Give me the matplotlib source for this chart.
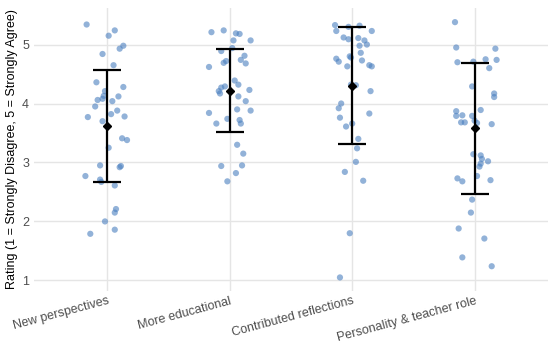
import numpy as np
import matplotlib
matplotlib.use("Agg")
import matplotlib.pyplot as plt

plt.rcParams['font.family'] = ['Liberation Sans', 'DejaVu Sans']

# categories
categories = ["New perspectives", "More educational", "Contributed reflections",
              "Personality & teacher role"]

# individual ratings
new_persp = [5.34, 5.15, 5.24, 4.98, 4.93, 4.84, 4.65, 4.36, 4.28, 4.21, 4.13, 4.06,
             4.08, 4.04, 4.12, 3.95, 3.88, 3.82, 3.77, 3.78, 3.70, 3.41, 3.38, 3.25,
             2.95, 2.94, 2.92, 2.77, 2.71, 2.67, 2.61, 2.21, 2.15, 2.00, 1.79, 1.86]
more_edu = [5.21, 5.24, 5.19, 5.18, 5.07, 5.07, 4.94, 4.89, 4.81, 4.74, 4.72, 4.69,
            4.68, 4.62, 4.39, 4.32, 4.29, 4.27, 4.21, 4.17, 4.23, 4.12, 4.04, 3.90,
            3.88, 3.84, 3.74, 3.72, 3.66, 3.66, 3.30, 3.15, 2.94, 2.95, 2.82, 2.68]
contrib = [5.33, 5.23, 5.30, 5.32, 5.23, 5.12, 5.09, 5.11, 5.07, 5.00, 4.98, 4.86,
           4.80, 4.78, 4.76, 4.71, 4.73, 4.63, 4.65, 4.63, 4.31, 4.32, 4.21, 4.00,
           3.92, 3.83, 3.76, 3.66, 3.61, 3.40, 3.24, 3.01, 2.84, 2.69, 1.80, 1.05]
personality = [5.38, 4.95, 4.93, 4.70, 4.71, 4.75, 4.74, 4.60, 4.29, 4.17, 4.11, 3.89,
               3.87, 3.79, 3.80, 3.79, 3.68, 3.68, 3.71, 3.67, 3.65, 3.14, 3.12, 3.06,
               3.02, 2.98, 2.93, 2.77, 2.73, 2.68, 2.70, 2.37, 2.15, 1.88, 1.71, 1.39,
               1.24]

# horizontal jitter of each point (category units)
jit1 = [-0.17, 0.01, 0.06, 0.13, 0.10, -0.04, 0.05, -0.09, 0.13, -0.02, -0.03, -0.08,
        -0.04, 0.04, 0.09, -0.10, 0.08, 0.03, -0.16, 0.14, -0.04, 0.12, 0.16, 0.01,
        -0.06, 0.11, 0.10, -0.18, -0.06, -0.05, 0.06, 0.07, 0.06, -0.02, -0.14, 0.06]
jit2 = [-0.15, -0.05, 0.05, 0.08, 0.17, 0.03, 0.02, -0.07, 0.12, 0.09, -0.03, -0.05,
        0.13, -0.17, 0.04, 0.07, -0.04, -0.07, -0.09, -0.08, 0.16, 0.07, 0.13, 0.06,
        0.17, -0.17, -0.02, 0.08, 0.09, -0.11, 0.06, 0.11, -0.07, 0.10, 0.05, -0.02]
jit3 = [-0.14, -0.13, -0.03, 0.06, 0.16, -0.07, -0.03, 0.05, 0.10, 0.12, 0.06, 0.07,
        -0.02, -0.01, -0.13, -0.11, 0.08, -0.04, 0.14, 0.16, 0.03, -0.01, 0.15, -0.09,
        -0.11, 0.14, -0.10, 0.00, -0.05, 0.05, 0.04, 0.03, -0.06, 0.09, -0.02, -0.10]
jit4 = [-0.16, -0.15, 0.17, -0.14, -0.01, 0.09, 0.18, 0.12, -0.02, 0.16, 0.16, 0.05,
        -0.15, -0.15, -0.10, -0.02, -0.11, -0.08, 0.00, 0.02, 0.14, -0.01, 0.05, 0.06,
        0.11, 0.05, 0.04, 0.02, -0.14, -0.10, 0.13, -0.02, -0.03, -0.13, 0.08, -0.10,
        0.14]

# mean and standard deviation per category
means = [3.62, 4.22, 4.30, 3.58]
sds = [0.95, 0.71, 0.99, 1.11]

ratings = [new_persp, more_edu, contrib, personality]
jitters = [jit1, jit2, jit3, jit4]

fig = plt.figure(figsize=(5.5, 3.46), dpi=100)
ax = fig.add_axes([34/550, 1 - 291/346, 514/550, 283/346])

for i in range(len(categories)):
    ax.scatter(i + np.array(jitters[i]), ratings[i], s=20, color='#4a7fbf',
               alpha=0.6, edgecolors='none', zorder=2)

ax.errorbar(range(len(categories)), means, yerr=sds, fmt='D', color='black',
            markersize=4, capsize=10, elinewidth=1.6, capthick=1.6, zorder=3)

ax.set_xlim(-0.6, 3.6)
ax.set_ylim(0.82, 5.62)
ax.set_yticks([1, 2, 3, 4, 5])
ax.set_xticks(range(len(categories)))
ax.set_xticklabels(categories, rotation=15, ha='right', rotation_mode='anchor')
ax.tick_params(axis='both', length=0, labelsize=9, labelcolor='#4d4d4d')
ax.tick_params(axis='x', pad=3)
ax.set_ylabel("Rating (1 = Strongly Disagree, 5 = Strongly Agree)", fontsize=9,
              color='black', labelpad=3)
ax.grid(True, color='#e5e5e5', linewidth=1)
ax.set_axisbelow(True)
for s in ax.spines.values():
    s.set_visible(False)

plt.savefig('out.png', dpi=100)
plt.close()
